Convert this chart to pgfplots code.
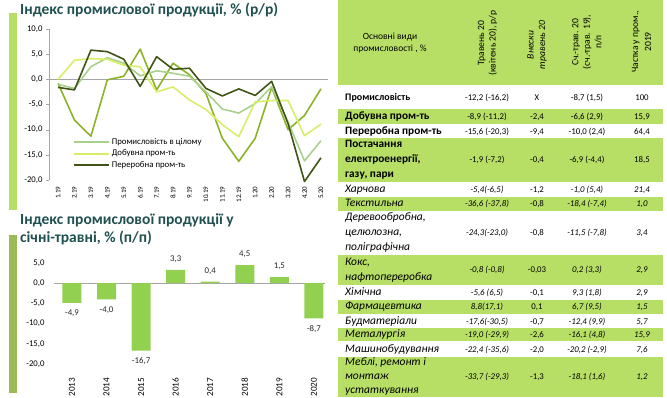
\documentclass[border=0pt]{standalone}
\usepackage{pgfplots}
\pgfplotsset{compat=1.18}
\usepackage{fontspec}
\setmainfont{Carlito}
\definecolor{tgreen}{RGB}{183,223,102}
\definecolor{bgreen}{RGB}{155,187,89}
\definecolor{titlec}{RGB}{32,80,80}
\definecolor{cAll}{RGB}{169,209,142}
\definecolor{cMin}{RGB}{214,238,104}
\definecolor{cMan}{RGB}{64,84,22}
\definecolor{cEl}{RGB}{140,178,40}
\definecolor{barc}{RGB}{146,208,80}
\newcommand{\fs}[1]{\fontsize{#1}{#1}\selectfont}
\tikzset{
 lab/.style={anchor=west, inner sep=0pt, text height=1.5ex, text depth=.3ex, font=\fs{11.5}},
 blab/.style={lab, font=\fs{11.3}\bfseries},
 ilab/.style={lab, font=\fs{11.5}\itshape},
 val/.style={anchor=center, inner sep=0pt, text height=1.5ex, text depth=.3ex, font=\fs{8.8}},
 ival/.style={val, font=\fs{8.8}\itshape},
}
\begin{document}
\begin{tikzpicture}[x=1pt,y=1pt]
\useasboundingbox (0,0) rectangle (667,397);
% decorative bars
\fill[tgreen] (9,187) rectangle (16.5,384);
\fill[bgreen] (9,4) rectangle (16.5,162);
% titles
\node[anchor=base west, inner sep=0pt, text=titlec, font=\fs{15.5}\bfseries] at (20,382) {Індекс промислової продукції, \% (р/р)};
\node[anchor=base west, inner sep=0pt, text=titlec, font=\fs{15.5}\bfseries] at (20,173) {Індекс промислової продукції у};
\node[anchor=base west, inner sep=0pt, text=titlec, font=\fs{15.5}\bfseries] at (20,154.5) {січні-травні, \% (п/п)};

% line chart
\begin{axis}[
  at={(49pt,217pt)}, anchor=south west, scale only axis, width=279pt, height=151pt,
  xmin=-0.55, xmax=16.43, ymin=-20, ymax=10,
  axis lines*=left,
  x axis line style={draw=none},
  y axis line style={draw=gray!70},
  xtick={0,...,16},
  xticklabels={1.19,2.19,3.19,4.19,5.19,6.19,7.19,8.19,9.19,10.19,11.19,12.19,1.20,2.20,3.20,4.20,5.20},
  xtick style={draw=none},
  xticklabel style={rotate=90, anchor=east, font=\fs{7}},
  ytick={-20,-15,...,10},
  ytick style={draw=gray!70},
  tick align=outside, major tick length=3pt,
  yticklabel style={font=\fs{8.7}, /pgf/number format/.cd, fixed, fixed zerofill, precision=1, use comma},
  /pgf/number format/assume math mode=true,
  legend style={at={(0.086,0.29)}, anchor=north west, draw=none, fill=none, font=\fs{8.8}, inner sep=0pt, row sep=0pt},
  legend cell align=left,
  legend image code/.code={\draw[#1] (0pt,0pt) -- (35pt,0pt);},
  clip=false,
  every axis plot/.append style={line width=1.6pt, line join=round},
]
\draw[gray!70, line width=0.6pt] (axis cs:-0.55,0) -- (axis cs:16.43,0);
\addplot[cEl, forget plot] coordinates {(0,-0.8)(1,-8.1)(2,-11.3)(3,-0.1)(4,0.6)(5,6.0)(6,-2.1)(7,3.2)(8,0.9)(9,-2.8)(10,-11.7)(11,-16.3)(12,-11.7)(13,-1.6)(14,-10.0)(15,-7.2)(16,-1.9)};
\addplot[cAll] coordinates {(0,-1.0)(1,-1.8)(2,2.5)(3,4.3)(4,3.2)(5,0.7)(6,1.7)(7,1.2)(8,0.6)(9,-2.5)(10,-5.9)(11,-6.7)(12,-4.8)(13,-1.5)(14,-8.5)(15,-16.2)(16,-12.2)};
\addplot[cMin] coordinates {(0,0.0)(1,3.8)(2,4.1)(3,4.0)(4,2.8)(5,2.5)(6,-2.5)(7,-1.5)(8,-4.1)(9,-6.0)(10,-9.0)(11,-11.4)(12,-4.5)(13,-4.2)(14,-4.2)(15,-11.2)(16,-8.9)};
\addplot[cMan] coordinates {(0,-1.6)(1,-2.1)(2,5.8)(3,5.5)(4,4.0)(5,-1.4)(6,4.5)(7,2.0)(8,2.2)(9,-1.8)(10,-3.3)(11,-1.9)(12,-3.2)(13,-0.4)(14,-8.8)(15,-20.3)(16,-15.6)};
\legend{Промисловість в цілому, Добувна пром-ть, Переробна пром-ть}
\end{axis}

% bar chart
\begin{axis}[
  at={(54pt,33pt)}, anchor=south west, scale only axis, width=271pt, height=101pt,
  xmin=-0.52, xmax=7.32, ymin=-20, ymax=5,
  axis lines*=left, axis line style={draw=none},
  ybar, bar width=19pt,
  xtick={0,...,7}, xticklabels={2013,2014,2015,2016,2017,2018,2019,2020},
  xticklabel style={rotate=90, anchor=east, font=\fs{9.2}},
  xticklabel shift=6pt,
  ytick={-20,-15,...,5},
  yticklabel style={font=\fs{8.7}, /pgf/number format/.cd, fixed, fixed zerofill, precision=1, use comma},
  yticklabel shift=6pt,
  /pgf/number format/assume math mode=true,
  tick style={draw=none},
  clip=false,
  nodes near coords={\pgfmathprintnumber[fixed,fixed zerofill,precision=1,use comma,assume math mode=true]{\pgfplotspointmeta}},
  every node near coord/.append style={font=\fs{8.8}, inner sep=7pt, text=black!85},
]
\draw[gray!70, line width=0.6pt] (axis cs:-0.52,0) -- (axis cs:7.32,0);
\addplot[fill=barc, draw=none] coordinates {(0,-4.9)(1,-4.0)(2,-16.7)(3,3.3)(4,0.4)(5,4.5)(6,1.5)(7,-8.7)};
\end{axis}

% table backgrounds
\fill[tgreen] (338,312) rectangle (663,397);
\fill[tgreen] (338,273) rectangle (663,287.5);
\fill[tgreen] (338,214.5) rectangle (663,259);
\fill[tgreen] (338,186.5) rectangle (663,200);
\fill[tgreen] (338,112.5) rectangle (663,142);
\fill[tgreen] (338,83.5) rectangle (663,97);
\fill[tgreen] (338,56.5) rectangle (663,69);
\fill[tgreen] (338,0) rectangle (663,40.5);

% header
\node[font=\fs{9.5}, align=center, inner sep=0pt] at (390,354) {Основні види\\[2pt]промисловості , \%};
\node[rotate=90, font=\fontsize{9.6}{11.5}\selectfont, align=center, inner sep=0pt] at (487.5,354) {Травень 20\\(квітень 20), р/р};
\node[rotate=90, font=\fontsize{9.6}{11.5}\selectfont\itshape, align=center, inner sep=0pt] at (537,352) {Внески\\травень 20};
\node[rotate=90, font=\fontsize{9.6}{11.5}\selectfont, align=center, inner sep=0pt] at (587,355) {Сч.-трав. 20\\(сч.-трав. 19),\\п/п};
\node[rotate=90, font=\fontsize{9.6}{13}\selectfont, align=center, inner sep=0pt] at (641.5,355) {Частка у пром.,\\2019};

% rows
\newcommand{\vrow}[5]{\node[val] at (487,#1) {#2}; \node[val] at (537,#1) {#3}; \node[val] at (587,#1) {#4}; \node[val] at (642,#1) {#5};}
\newcommand{\irow}[5]{\node[ival] at (487,#1) {#2}; \node[val] at (537,#1) {#3}; \node[ival] at (587,#1) {#4}; \node[ival] at (642,#1) {#5};}

\node[blab, font=\fs{10}\bfseries] at (345,299) {Промисловість};
\vrow{299}{-12,2 (-16,2)}{X}{-8,7 (1,5)}{100}
\node[blab] at (345,280) {Добувна пром-ть};
\vrow{280}{-8,9 (-11,2)}{-2,4}{-6,6 (2,9)}{15,9}
\node[blab] at (345,265) {Переробна пром-ть};
\vrow{265}{-15,6 (-20,3)}{-9,4}{-10,0 (2,4)}{64,4}
\node[blab] at (345,252) {Постачання};
\node[blab] at (345,237) {електроенергії,};
\node[blab] at (345,222) {газу, пари};
\vrow{237}{-1,9 (-7,2)}{-0,4}{-6,9 (-4,4)}{18,5}
\node[ilab] at (345,207) {Харчова};
\irow{207}{-5,4(-6,5)}{-1,2}{-1,0 (5,4)}{21,4}
\node[ilab] at (345,193) {Текстильна};
\irow{193}{-36,6 (-37,8)}{-0,8}{-18,4 (-7,4)}{1,0}
\node[ilab] at (345,179) {Деревообробна,};
\node[ilab] at (345,164) {целюлозна,};
\node[ilab] at (345,149) {поліграфічна};
\irow{164}{-24,3(-23,0)}{-0,8}{-11,5 (-7,8)}{3,4}
\node[ilab] at (345,134) {Кокс,};
\node[ilab] at (345,119) {нафтопереробка};
\irow{127}{-0,8 (-0,8)}{-0,03}{0,2 (3,3)}{2,9}
\node[ilab] at (345,104) {Хімічна};
\irow{104}{-5,6 (6,5)}{-0,1}{9,3 (1,8)}{2,9}
\node[ilab] at (345,90) {Фармацевтика};
\irow{90}{8,8(17,1)}{0,1}{6,7 (9,5)}{1,5}
\node[ilab] at (345,75) {Будматеріали};
\irow{75}{-17,6(-30,5)}{-0,7}{-12,4 (9,9)}{5,7}
\node[ilab] at (345,62) {Металургія};
\irow{62}{-19,0 (-29,9)}{-2,6}{-16,1 (4,8)}{15,9}
\node[ilab] at (345,47) {Машинобудування};
\irow{47}{-22,4 (-35,6)}{-2,0}{-20,2 (-2,9)}{7,6}
\node[ilab] at (345,34.5) {Меблі, ремонт і};
\node[ilab] at (345,20) {монтаж};
\node[ilab] at (345,6.5) {устаткування};
\irow{20}{-33,7 (-29,3)}{-1,3}{-18,1 (1,6)}{1,2}
\end{tikzpicture}
\end{document}
